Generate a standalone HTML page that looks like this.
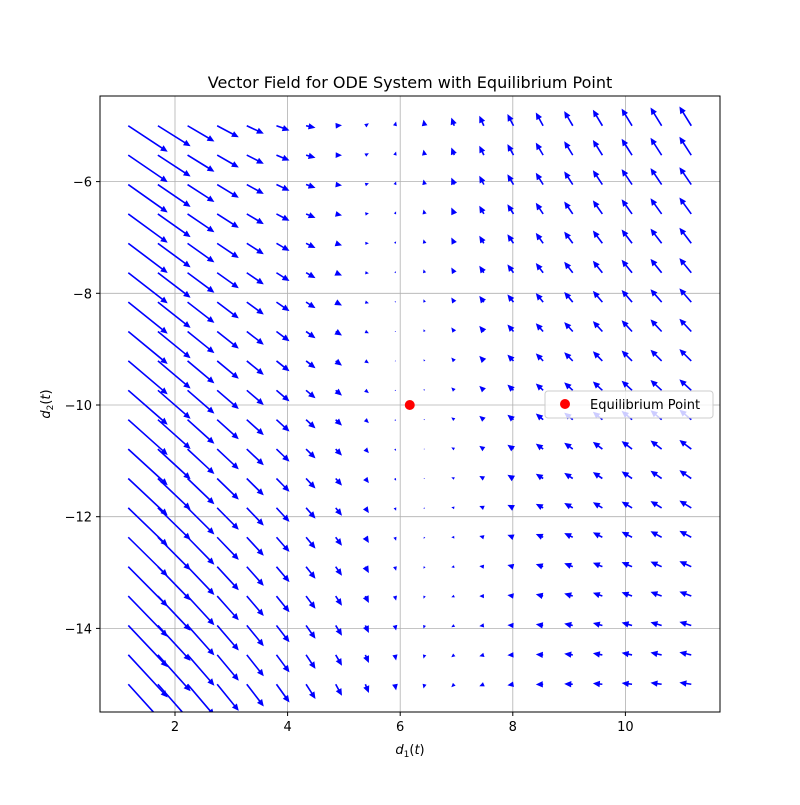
<!DOCTYPE html>
<html><head><meta charset="utf-8"><style>
body{margin:0;background:#fff}
svg text{font-family:"DejaVu Sans","Liberation Sans",sans-serif;fill:#000}
</style></head><body>
<svg id="chart" width="800" height="800" viewBox="0 0 800 800" xmlns="http://www.w3.org/2000/svg">
<defs><clipPath id="plotclip"><rect x="100" y="96" width="620" height="616"/></clipPath></defs>
<rect width="800" height="800" fill="#fff"/>
<g id="grid"></g>
<g id="arrows" clip-path="url(#plotclip)"></g>
<rect x="100" y="96" width="620" height="616" fill="none" stroke="#000" stroke-width="1"/>
<g id="ticks"></g>
<text x="410" y="88" font-size="16" text-anchor="middle">Vector Field for ODE System with Equilibrium Point</text>
<text x="410" y="754" font-size="13" text-anchor="middle"><tspan font-style="italic">d</tspan><tspan font-size="9" dy="3">1</tspan><tspan dy="-3">(</tspan><tspan font-style="italic">t</tspan>)</text>
<text transform="translate(50,404) rotate(-90)" font-size="13" text-anchor="middle"><tspan font-style="italic">d</tspan><tspan font-size="9" dy="3">2</tspan><tspan dy="-3">(</tspan><tspan font-style="italic">t</tspan>)</text>
<circle id="eq" r="5" fill="#ff0000"/>
<g>
<rect x="545" y="391" width="168" height="27" rx="3" fill="#fff" fill-opacity="0.8" stroke="#ccc"/>
<circle cx="565" cy="404" r="5" fill="#ff0000"/>
<text x="590" y="409" font-size="13">Equilibrium Point</text>
</g>
</svg>
<script>
const xTicks = [2, 4, 6, 8, 10];
const yTicks = [-6, -8, -10, -12, -14];
const xTickLabels = ["2", "4", "6", "8", "10"];
const yTickLabels = ["\u22126", "\u22128", "\u221210", "\u221212", "\u221214"];
const equilibrium = [6.17, -10];
const gridX = [1.17,1.696,2.223,2.749,3.275,3.802,4.328,4.854,5.381,5.907,6.433,6.96,7.486,8.012,8.539,9.065,9.591,10.118,10.644,11.17];
const gridY = [-5,-5.526,-6.053,-6.579,-7.105,-7.632,-8.158,-8.684,-9.211,-9.737,-10.263,-10.789,-11.316,-11.842,-12.368,-12.895,-13.421,-13.947,-14.474,-15];
// field parameters: [amplitudeX, rate, amplitudeY, couplingV, couplingVGrowth]
const fieldParams = [17, 0.24, 15, 1.0, 0.15];

const sx = x => 62.4 + x * 56.3;
const sy = y => 405 - (y + 10) * 55.85;
const NS = "http://www.w3.org/2000/svg";
const grid = document.getElementById('grid');
const ticks = document.getElementById('ticks');

xTicks.forEach((t, i) => {
  const l = document.createElementNS(NS, 'line');
  l.setAttribute('x1', sx(t)); l.setAttribute('x2', sx(t));
  l.setAttribute('y1', 96); l.setAttribute('y2', 712);
  l.setAttribute('stroke', '#b0b0b0'); l.setAttribute('stroke-width', '0.8');
  
  
  grid.appendChild(l);
  const tk = document.createElementNS(NS, 'line');
  tk.setAttribute('x1', sx(t)); tk.setAttribute('x2', sx(t));
  tk.setAttribute('y1', 712); tk.setAttribute('y2', 716);
  tk.setAttribute('stroke', '#000');
  
  
  ticks.appendChild(tk);
  const tx = document.createElementNS(NS, 'text');
  tx.setAttribute('x', sx(t)); tx.setAttribute('y', 731);
  tx.setAttribute('font-size', '13'); tx.setAttribute('text-anchor', 'middle');
  tx.textContent = xTickLabels[i];
  
  
  ticks.appendChild(tx);
});
yTicks.forEach((t, i) => {
  const l = document.createElementNS(NS, 'line');
  l.setAttribute('x1', 100); l.setAttribute('x2', 720);
  l.setAttribute('y1', sy(t)); l.setAttribute('y2', sy(t));
  l.setAttribute('stroke', '#b0b0b0'); l.setAttribute('stroke-width', '0.8');
  
  
  grid.appendChild(l);
  const tk = document.createElementNS(NS, 'line');
  tk.setAttribute('x1', 96); tk.setAttribute('x2', 100);
  tk.setAttribute('y1', sy(t)); tk.setAttribute('y2', sy(t));
  tk.setAttribute('stroke', '#000');
  
  
  ticks.appendChild(tk);
  const tx = document.createElementNS(NS, 'text');
  tx.setAttribute('x', 92); tx.setAttribute('y', sy(t) + 5);
  tx.setAttribute('font-size', '13'); tx.setAttribute('text-anchor', 'end');
  tx.textContent = yTickLabels[i];
  
  
  ticks.appendChild(tx);
});

const eq = document.getElementById('eq');
eq.setAttribute('cx', sx(equilibrium[0]));
eq.setAttribute('cy', sy(equilibrium[1]));

const arrows = document.getElementById('arrows');
const [P, lam, Q, D, G] = fieldParams;
gridX.forEach(x => {
  gridY.forEach(y => {
    const u = x - equilibrium[0], v = y - equilibrium[1];
    const e = Math.exp(-lam * u) - 1;
    const dx = P * e;
    const dyUp = -Q * e + D * v * (1 + G * Math.abs(u));
    const L = Math.hypot(dx, dyUp);
    if (L < 0.3) return;
    const x0 = sx(x), y0 = sy(y);
    const ang = Math.atan2(-dyUp, dx);
    const w = 1.6, hl = 7, hw = 3.2;
    const s = Math.min(1, L / hl);
    const HL = hl * s, HW = hw * s, W = w * s;
    const shaft = Math.max(0, L - HL);
    const pts = [[0, -W / 2], [shaft, -W / 2], [shaft, -HW], [L, 0], [shaft, HW], [shaft, W / 2], [0, W / 2]];
    const c = Math.cos(ang), sn = Math.sin(ang);
    const p = pts.map(([a, b]) => (x0 + a * c - b * sn).toFixed(1) + ',' + (y0 + a * sn + b * c).toFixed(1)).join(' ');
    const poly = document.createElementNS(NS, 'polygon');
    poly.setAttribute('points', p);
    poly.setAttribute('fill', '#0000ff');
    
    
    arrows.appendChild(poly);
  });
});
</script>
</body></html>
